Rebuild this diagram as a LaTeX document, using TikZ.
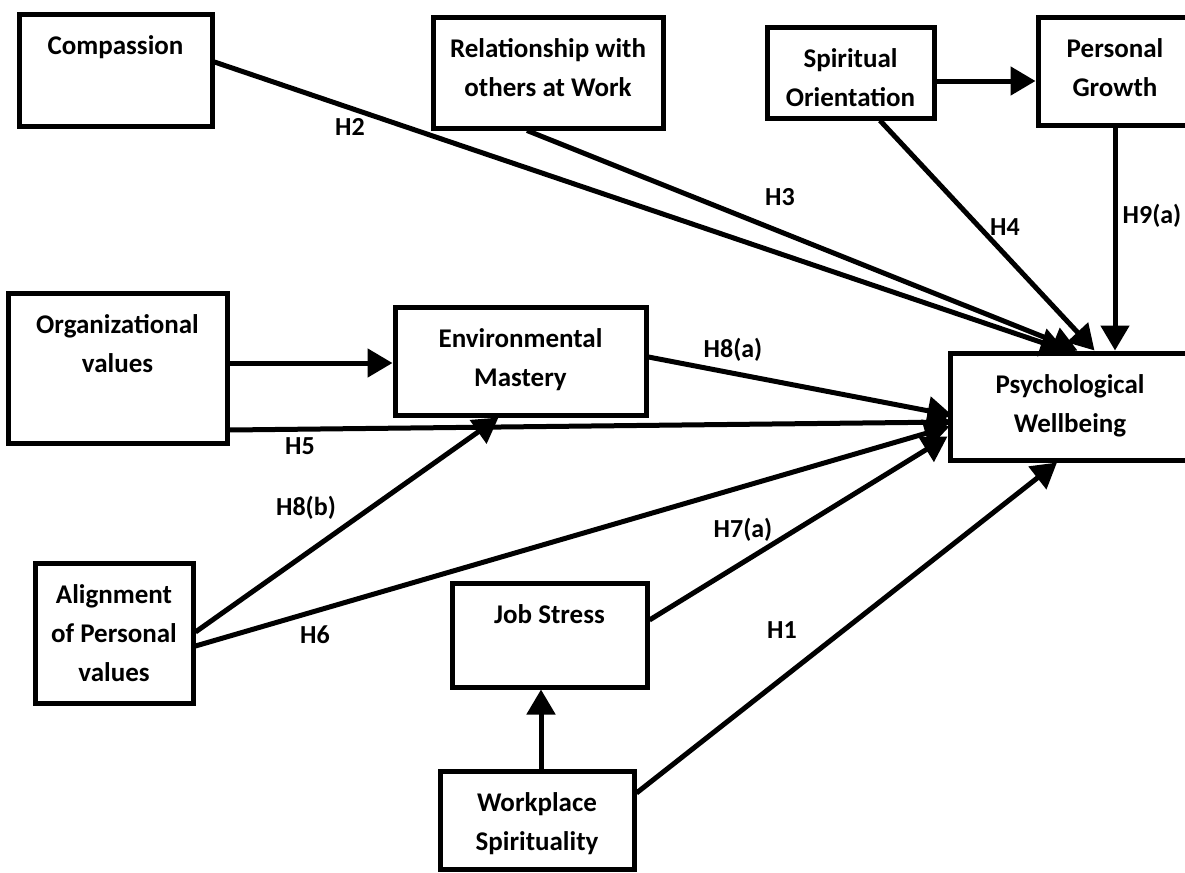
\documentclass[tikz,border=0pt]{standalone}
\usepackage{fontspec}
\setmainfont{Carlito}
\usetikzlibrary{arrows.meta,calc}

\newcommand{\topbox}[3]{\parbox[c][#2][t]{#1}{\centering\vspace*{6.5pt}\strut#3}}

\tikzset{
  box/.style={draw, line width=2.5pt, inner sep=0pt, font=\fontsize{13.5}{19.5}\selectfont\bfseries},
  arr/.style={line width=2.5pt, -{Triangle[length=12.5pt,width=14pt]}},
  hyp/.style={font=\fontsize{13}{15}\selectfont\bfseries, inner sep=1pt}
}

\begin{document}
\begin{tikzpicture}[x=0.5pt, y=-0.5pt]
\useasboundingbox (0,0) rectangle (1185,873);
\clip (0,0) rectangle (1185,873);

% Variables
\node[box] (comp)  at (115.5,70)   {\topbox{96.5pt}{56pt}{Compassion}};
\node[box] (rel)   at (548,72.5)   {\topbox{115pt}{55.5pt}{Relationship with\\others at Work}};
\node[box] (spir)  at (850.5,72.5) {\topbox{83.5pt}{45.5pt}{Spiritual\\Orientation}};
\node[box] (grow)  at (1115,71)    {\topbox{77pt}{54pt}{Personal\\Growth}};
\node[box] (org)   at (117.5,368)  {\topbox{109.5pt}{75pt}{Organizational\\values}};
\node[box] (env)   at (520.5,361)  {\topbox{125.5pt}{54pt}{Environmental\\Mastery}};
\node[box] (pw)    at (1070,406.5) {\topbox{120pt}{53.5pt}{Psychological\\Wellbeing}};
\node[box] (align) at (114,633)    {\topbox{79pt}{70pt}{Alignment\\of Personal\\values}};
\node[box] (job)   at (549.5,635)  {\topbox{97.5pt}{52pt}{Job Stress}};
\node[box] (work)  at (537,820)    {\topbox{97pt}{49pt}{Workplace\\Spirituality}};

% Paths into wellbeing
\draw[arr] ($(comp.east)+(0,-8)$) -- ($(pw.north west)+(118,0)$);
\draw[arr] ($(rel.south)+(-21,0)$) -- ($(pw.north west)+(130,0)$);
\draw[arr] ($(spir.south)+(29.5,0)$) -- ($(pw.north west)+(147,0)$);
\draw[arr] (grow.south) -- (grow.south |- pw.north);
\draw[arr] ($(env.east)+(0,-4)$) -- ($(pw.west)+(5,9)$);
\draw[arr] ($(org.east)+(0,62)$) -- ($(pw.west)+(5,15.5)$);
\draw[arr] ($(align.east)+(0,13)$) -- ($(pw.west)+(2,20)$);
\draw[arr] ($(job.east)+(0,-15)$) -- ($(pw.west)+(0,30)$);
\draw[arr] ($(work.east)+(0,-27)$) -- ($(pw.south)+(-13,0)$);

% Other paths
\draw[arr] ($(spir.east)+(0,8.5)$) -- ($(grow.west)+(0,10)$);
\draw[arr] ($(org.east)+(0,-5)$) -- ($(env.west)+(0,2)$);
\draw[arr] ($(align.east)+(0,-1)$) -- ($(env.south)+(-22,0)$);
\draw[arr] ($(work.north)+(4,0)$) -- ($(work.north |- job.south)+(4,0)$);

% Hypotheses
\foreach \h/\x/\y [count=\i] in {H2/350/127, H3/780/197, H4/1005/227, H9(a)/1152/216,
    H8(a)/733/350, H5/300/446, H8(b)/306/508, H6/315/635, H7(a)/743/530, H1/782/630}
  \node[hyp] (hyp\i) at (\x,\y) {\h};
\end{tikzpicture}
\end{document}
